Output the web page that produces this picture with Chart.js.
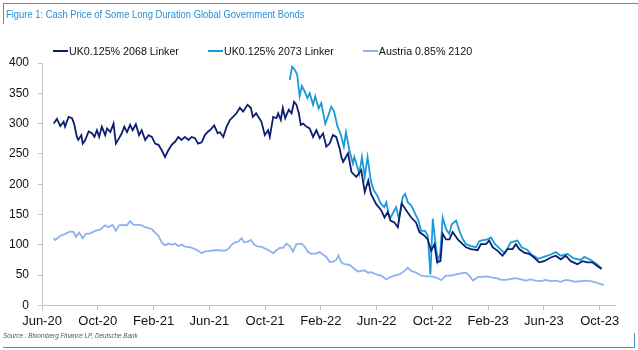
<!DOCTYPE html>
<html>
<head>
<meta charset="utf-8">
<script src="https://cdn.jsdelivr.net/npm/chart.js@4.4.0/dist/chart.umd.min.js"></script>
<style>
  body { margin: 0; background: #fff; font-family: "Liberation Sans", Arial, sans-serif; }
  #wrap { position: relative; width: 638px; height: 350px; overflow: hidden; }
  #chart { position: absolute; left: 0; top: 0; }
  .frame-top { position: absolute; left: 3px; top: 3px; right: 0; height: 20px;
               border-top: 1px solid #3d94d6; border-left: 1px solid #3d94d6; }
  .frame-bottom { position: absolute; left: 3px; top: 333px; width: 631px; height: 14px;
                  border-bottom: 1px solid #3d94d6; border-right: 1px solid #3d94d6; }
  #title { position: absolute; left: 6px; top: 8px; font-size: 11px; color: #2a8fd4;
           white-space: nowrap; transform-origin: left top; transform: scaleX(0.855); }
  #legend { position: absolute; left: 53px; top: 45px; display: flex; gap: 29px;
            font-size: 10.7px; color: #111; white-space: nowrap; }
  #legend .item { display: flex; align-items: center; }
  #legend .swatch { width: 15px; height: 2px; margin-right: 1px; }
  #source { position: absolute; left: 3px; top: 332px; font-size: 7px; font-style: italic;
            color: #555; white-space: nowrap; transform-origin: left top; transform: scaleX(0.9); }
</style>
</head>
<body>
<div id="wrap">
  <canvas id="chart" width="638" height="350"></canvas>
  <div class="frame-top"></div>
  <div class="frame-bottom"></div>
  <div id="title">Figure 1: Cash Price of Some Long Duration Global Government Bonds</div>
  <div id="legend"></div>
  <div id="source">Source : Bloomberg Finance LP, Deutsche Bank</div>
</div>
<script>
// x = months since 1 Jun 2020
const tickLabels = ['Jun-20', 'Oct-20', 'Feb-21', 'Jun-21', 'Oct-21', 'Feb-22',
                    'Jun-22', 'Oct-22', 'Feb-23', 'Jun-23', 'Oct-23']

const uk2068 = [
  [0.84, 300], [1.07, 308], [1.31, 296], [1.55, 303], [1.65, 295], [1.91, 311], [2.15, 309],
  [2.3, 300], [2.5, 278], [2.6, 273], [2.82, 281], [2.92, 267], [3.1, 273], [3.34, 287],
  [3.58, 284], [3.76, 278], [3.94, 289], [4.1, 278], [4.29, 295], [4.53, 281], [4.67, 292],
  [4.9, 286], [5.13, 300], [5.3, 267], [5.53, 276], [5.72, 284], [5.9, 295], [6.1, 286],
  [6.32, 298], [6.5, 289], [6.73, 299], [6.96, 281], [7.15, 289], [7.4, 273], [7.64, 281],
  [7.88, 278], [8.11, 267], [8.35, 265], [8.59, 256], [8.82, 245], [9.06, 256], [9.3, 265],
  [9.54, 270], [9.78, 278], [10.0, 273], [10.25, 278], [10.5, 273], [10.73, 278], [10.97, 276],
  [11.2, 267], [11.45, 269], [11.68, 281], [11.92, 287], [12.04, 289], [12.35, 297], [12.6, 284],
  [12.76, 286], [13.0, 278], [13.24, 295], [13.48, 306], [13.7, 311], [13.95, 317], [14.19, 326],
  [14.43, 320], [14.74, 331], [14.98, 326], [15.12, 311], [15.36, 317], [15.74, 303], [15.98, 281],
  [16.22, 289], [16.34, 278], [16.58, 311], [16.82, 309], [16.94, 317], [17.13, 306], [17.27, 326],
  [17.44, 309], [17.7, 323], [17.9, 317], [18.08, 336], [18.25, 331], [18.42, 317], [18.56, 298],
  [18.73, 300], [18.96, 295], [19.2, 292], [19.44, 278], [19.68, 289], [19.92, 276], [20.16, 284],
  [20.39, 262], [20.63, 267], [20.87, 281], [21.1, 278], [21.35, 259], [21.47, 245], [21.6, 237],
  [21.95, 251], [22.2, 220], [22.54, 212], [22.9, 223], [23.15, 187], [23.4, 206], [23.6, 184],
  [23.97, 167], [24.33, 157], [24.57, 145], [24.8, 154], [24.99, 140], [25.28, 137], [25.52, 129],
  [25.8, 168], [26.12, 157], [26.48, 145], [26.83, 137], [27.07, 121], [27.43, 115], [27.67, 109],
  [27.91, 90], [28.15, 101], [28.34, 71], [28.58, 73], [28.74, 118], [28.98, 109], [29.22, 109],
  [29.46, 121], [29.82, 109], [30.17, 101], [30.41, 96], [30.77, 93], [31.25, 91], [31.48, 101],
  [31.84, 101], [32.08, 107], [32.32, 96], [32.68, 90], [33.03, 82], [33.39, 93], [33.75, 93],
  [33.99, 101], [34.23, 93], [34.59, 87], [34.94, 85], [35.3, 79], [35.66, 71], [36.02, 73],
  [36.49, 79], [36.85, 82], [37.21, 76], [37.57, 82], [37.92, 73], [38.4, 68], [38.76, 73],
  [39.12, 71], [39.48, 71], [39.83, 65], [40.14, 60]
]

const uk2073 = [
  [17.77, 372], [17.94, 394], [18.13, 389], [18.3, 381], [18.48, 345], [18.64, 362], [18.84, 353],
  [19.03, 342], [19.2, 350], [19.44, 331], [19.6, 345], [19.84, 325], [20.03, 334], [20.32, 300],
  [20.5, 311], [20.75, 328], [20.95, 320], [21.2, 295], [21.44, 281], [21.65, 262], [21.8, 286],
  [22.05, 256], [22.3, 234], [22.4, 245], [22.6, 230], [22.75, 217], [22.95, 245], [23.15, 212],
  [23.35, 245], [23.6, 204], [23.8, 190], [24.05, 181], [24.3, 168], [24.55, 162], [24.7, 170],
  [24.85, 151], [25.0, 145], [25.4, 162], [25.6, 143], [25.88, 179], [26.05, 184], [26.24, 170],
  [26.48, 165], [26.71, 154], [27.0, 140], [27.19, 123], [27.48, 123], [27.67, 115], [27.86, 51],
  [28.03, 143], [28.2, 107], [28.39, 73], [28.57, 87], [28.74, 145], [28.98, 126], [29.22, 118],
  [29.39, 134], [29.7, 140], [29.94, 123], [30.17, 110], [30.41, 101], [30.77, 98], [31.13, 96],
  [31.37, 106], [31.48, 107], [31.95, 109], [32.2, 112], [32.5, 101], [32.9, 92], [33.2, 86],
  [33.63, 104], [34.1, 107], [34.4, 96], [34.8, 92], [35.06, 85], [35.6, 77], [36.0, 80],
  [36.5, 84], [36.85, 88], [37.2, 82], [37.7, 85], [38.1, 78], [38.64, 75], [38.9, 80],
  [39.36, 75], [39.8, 68], [40.14, 61]
]

const austria = [
  [0.84, 111], [0.95, 108], [1.31, 115], [1.67, 118], [2.03, 122], [2.27, 121], [2.43, 113],
  [2.67, 120], [2.91, 111], [3.15, 118], [3.46, 119], [3.81, 123], [4.17, 125], [4.53, 132],
  [4.77, 129], [5.06, 133], [5.3, 123], [5.53, 132], [5.85, 133], [6.08, 132], [6.32, 139],
  [6.56, 133], [6.92, 133], [7.16, 132], [7.39, 129], [7.63, 128], [7.87, 126], [8.11, 120],
  [8.35, 115], [8.59, 104], [8.82, 99], [9.06, 102], [9.3, 100], [9.54, 102], [9.78, 98],
  [10.02, 100], [10.25, 97], [10.61, 96], [10.97, 93], [11.21, 90], [11.45, 86], [11.69, 89],
  [12.04, 90], [12.4, 91], [12.76, 91], [13.1, 90], [13.36, 93], [13.6, 100], [13.84, 104],
  [14.07, 105], [14.31, 111], [14.5, 104], [14.74, 105], [14.98, 108], [15.22, 100], [15.5, 97],
  [15.74, 97], [15.98, 94], [16.27, 91], [16.58, 86], [16.82, 91], [17.05, 95], [17.29, 95],
  [17.53, 102], [17.77, 98], [18.0, 89], [18.25, 101], [18.6, 102], [18.84, 97], [19.08, 88],
  [19.32, 85], [19.68, 86], [19.92, 88], [20.15, 84], [20.4, 80], [20.63, 72], [20.87, 72],
  [21.11, 75], [21.27, 82], [21.47, 71], [21.7, 68], [22.06, 67], [22.42, 60], [22.66, 56],
  [22.9, 57], [23.14, 58], [23.37, 54], [23.61, 55], [23.97, 51], [24.33, 49], [24.69, 43],
  [24.93, 46], [25.28, 49], [25.64, 51], [26.0, 57], [26.24, 62], [26.48, 57], [26.84, 54],
  [27.2, 49], [27.55, 48], [27.91, 48], [28.27, 46], [28.63, 41.5], [28.98, 49], [29.34, 49],
  [29.7, 51], [30.05, 53], [30.41, 54], [30.65, 49], [30.9, 41], [31.3, 47], [31.6, 47],
  [31.95, 48], [32.3, 46], [32.6, 45], [32.95, 42], [33.3, 42], [33.7, 44], [34.0, 45],
  [34.35, 43], [34.7, 41], [35.06, 43], [35.4, 41], [35.78, 40], [36.14, 42], [36.5, 40],
  [36.85, 41], [37.2, 39], [37.57, 42], [37.92, 41], [38.28, 39], [38.64, 40], [39.0, 41],
  [39.36, 40], [39.71, 38], [40.07, 35], [40.3, 34]
]

const toPoints = rows => rows.map(([x, y]) => ({ x, y }))

const series = [
  { label: 'UK0.125% 2068 Linker', rows: uk2068, color: '#0c1f6e' },
  { label: 'UK0.125% 2073 Linker', rows: uk2073, color: '#1b9ad8' },
  { label: 'Austria 0.85% 2120', rows: austria, color: '#8db2f2' }
]

const chart = new Chart(document.getElementById('chart'), {
  type: 'line',
  data: {
    datasets: series.map(s => ({
      label: s.label,
      data: toPoints(s.rows),
      borderColor: s.color,
      backgroundColor: s.color,
      borderWidth: 1.8,
      pointRadius: 0,
      tension: 0,
      fill: false
    }))
  },
  options: {
    responsive: false,
    animation: false,
    layout: { padding: { left: 0, right: 23, top: 63, bottom: 18 } },
    plugins: {
      legend: { display: false },
      tooltip: { enabled: false }
    },
    scales: {
      x: {
        type: 'linear',
        min: 0,
        max: 41.1,
        border: { color: '#c4c4c4' },
        grid: { drawOnChartArea: false, color: '#c4c4c4', tickLength: 5 },
        ticks: {
          stepSize: 4,
          includeBounds: false,
          padding: 3,
          maxRotation: 0,
          autoSkip: false,
          color: '#111',
          font: { family: 'Liberation Sans', size: 13 },
          callback: v => tickLabels[v / 4] ?? ''
        }
      },
      y: {
        min: 0,
        max: 400,
        border: { color: '#c4c4c4' },
        grid: { drawOnChartArea: false, color: '#c4c4c4', tickLength: 4 },
        ticks: {
          stepSize: 50,
          padding: 9,
          color: '#111',
          font: { family: 'Liberation Sans', size: 12 }
        }
      }
    }
  }
})

// html legend built from the chart datasets
const legendEl = document.getElementById('legend')
chart.data.datasets.forEach(ds => {
  const item = document.createElement('div')
  item.className = 'item'
  item.innerHTML = `<span class="swatch" style="background:${ds.borderColor}"></span><span>${ds.label}</span>`
  legendEl.appendChild(item)
})
</script>
</body>
</html>
